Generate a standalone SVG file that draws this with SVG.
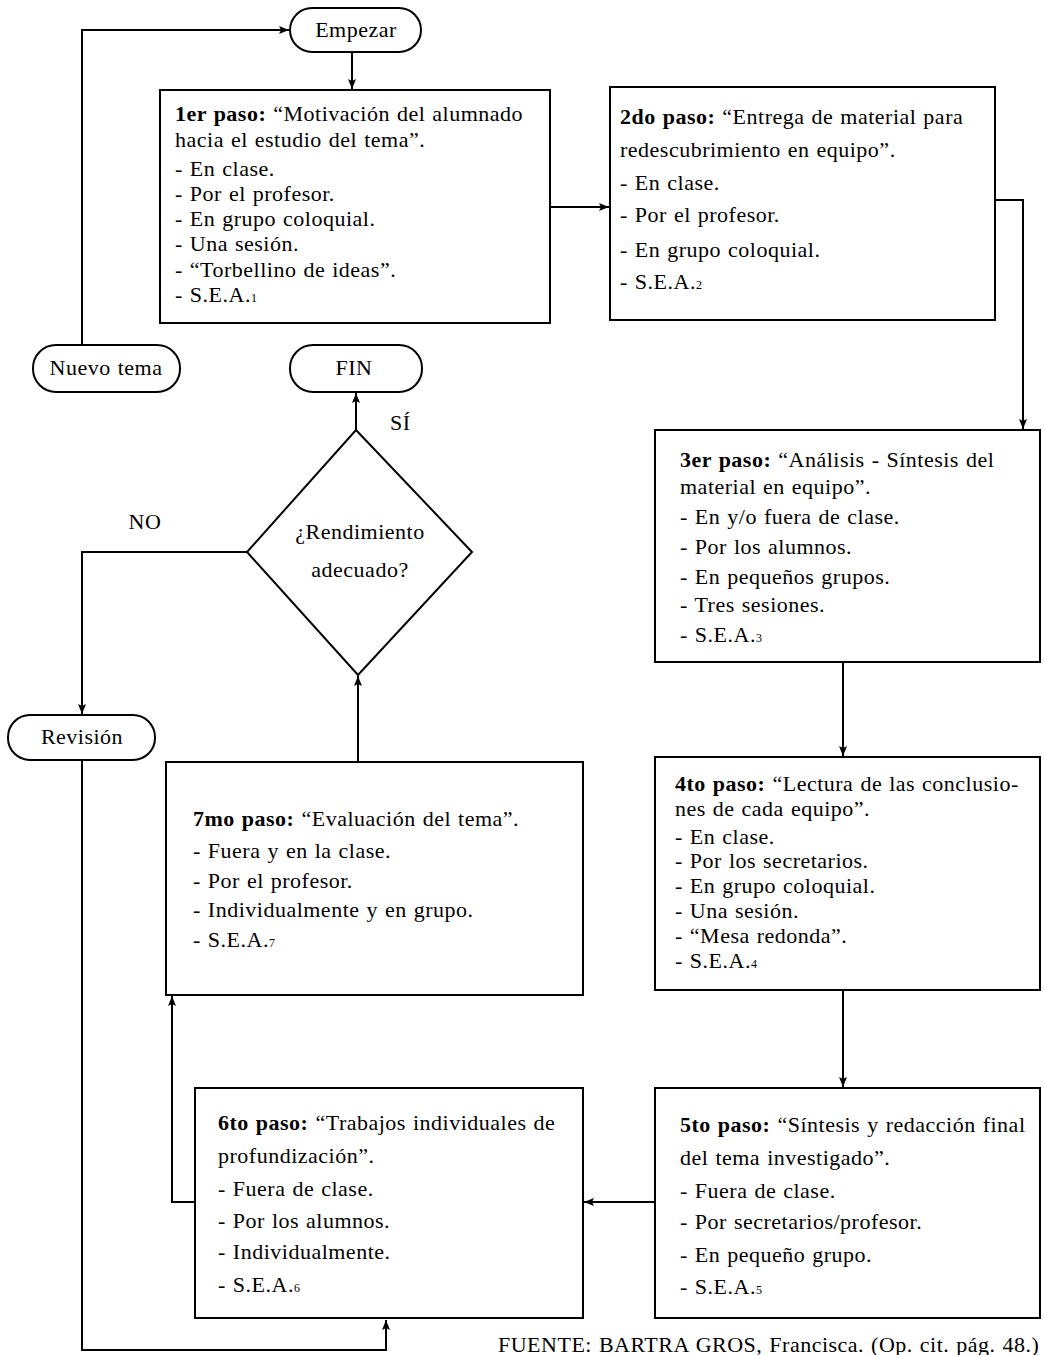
<svg xmlns="http://www.w3.org/2000/svg" width="1044" height="1355" viewBox="0 0 1044 1355">
<defs>
<marker id="ah" markerWidth="12" markerHeight="10" refX="10" refY="5" orient="auto" markerUnits="userSpaceOnUse">
<path d="M0,1 L10,5 L0,9 L2,5 Z" fill="#000"/>
</marker>
<style>
.box{fill:#fff;stroke:#000;stroke-width:2}
.term{fill:#fff;stroke:#000;stroke-width:2}
.t{font-family:"Liberation Serif","Times New Roman",serif;font-size:22px;fill:#000;letter-spacing:0.5px;word-spacing:1px}
.c{text-anchor:middle}
.b{font-weight:bold}
.sub{font-size:12px}
.con{fill:none;stroke:#000;stroke-width:2}
.arr{marker-end:url(#ah)}
</style>
</defs>
<rect width="1044" height="1355" fill="#fff"/>

<g id="connectors">
<path class="con arr" d="M82,345 L82,30 L289,30"/>
<path class="con arr" d="M352,52 L352,89"/>
<path class="con arr" d="M550,207 L609,207"/>
<path class="con arr" d="M995,200 L1023,200 L1023,429"/>
<path class="con arr" d="M843,662 L843,756"/>
<path class="con arr" d="M843,990 L843,1087"/>
<path class="con arr" d="M655,1202 L584,1202"/>
<path class="con arr" d="M195,1202 L172,1202 L172,996"/>
<path class="con arr" d="M358,762 L358,676"/>
<path class="con arr" d="M356,430 L356,393"/>
<path class="con arr" d="M247,552 L82,552 L82,714"/>
<path class="con arr" d="M82,760 L82,1350 L386,1350 L386,1320"/>
</g>

<g id="empezar">
<rect class="term" x="290" y="8" width="131" height="44" rx="22"/>
<text class="t c" x="356" y="37">Empezar</text>
</g>

<g id="paso1">
<rect class="box" x="160" y="90" width="390" height="233"/>
<text class="t" x="175" y="121"><tspan class="b">1er paso:</tspan> “Motivación del alumnado</text>
<text class="t" x="175" y="147">hacia el estudio del tema”.</text>
<text class="t" x="175" y="176">- En clase.</text>
<text class="t" x="175" y="201">- Por el profesor.</text>
<text class="t" x="175" y="226">- En grupo coloquial.</text>
<text class="t" x="175" y="251">- Una sesión.</text>
<text class="t" x="175" y="277">- “Torbellino de ideas”.</text>
<text class="t" x="175" y="302">- S.E.A.<tspan class="sub">1</tspan></text>
</g>

<g id="paso2">
<rect class="box" x="610" y="87" width="385" height="233"/>
<text class="t" x="620" y="124"><tspan class="b">2do paso:</tspan> “Entrega de material para</text>
<text class="t" x="620" y="157">redescubrimiento en equipo”.</text>
<text class="t" x="620" y="190">- En clase.</text>
<text class="t" x="620" y="222">- Por el profesor.</text>
<text class="t" x="620" y="257">- En grupo coloquial.</text>
<text class="t" x="620" y="289">- S.E.A.<tspan class="sub">2</tspan></text>
</g>

<g id="paso3">
<rect class="box" x="655" y="430" width="385" height="232"/>
<text class="t" x="680" y="467"><tspan class="b">3er paso:</tspan> “Análisis - Síntesis del</text>
<text class="t" x="680" y="494">material en equipo”.</text>
<text class="t" x="680" y="524">- En y/o fuera de clase.</text>
<text class="t" x="680" y="554">- Por los alumnos.</text>
<text class="t" x="680" y="584">- En pequeños grupos.</text>
<text class="t" x="680" y="612">- Tres sesiones.</text>
<text class="t" x="680" y="642">- S.E.A.<tspan class="sub">3</tspan></text>
</g>

<g id="paso4">
<rect class="box" x="655" y="757" width="385" height="233"/>
<text class="t" x="675" y="791"><tspan class="b">4to paso:</tspan> “Lectura de las conclusio-</text>
<text class="t" x="675" y="816">nes de cada equipo”.</text>
<text class="t" x="675" y="844">- En clase.</text>
<text class="t" x="675" y="868">- Por los secretarios.</text>
<text class="t" x="675" y="893">- En grupo coloquial.</text>
<text class="t" x="675" y="918">- Una sesión.</text>
<text class="t" x="675" y="943">- “Mesa redonda”.</text>
<text class="t" x="675" y="968">- S.E.A.<tspan class="sub">4</tspan></text>
</g>

<g id="paso5">
<rect class="box" x="655" y="1088" width="385" height="230"/>
<text class="t" x="680" y="1132"><tspan class="b">5to paso:</tspan> “Síntesis y redacción final</text>
<text class="t" x="680" y="1165">del tema investigado”.</text>
<text class="t" x="680" y="1198">- Fuera de clase.</text>
<text class="t" x="680" y="1229">- Por secretarios/profesor.</text>
<text class="t" x="680" y="1262">- En pequeño grupo.</text>
<text class="t" x="680" y="1294">- S.E.A.<tspan class="sub">5</tspan></text>
</g>

<g id="paso6">
<rect class="box" x="195" y="1088" width="388" height="230"/>
<text class="t" x="218" y="1130"><tspan class="b">6to paso:</tspan> “Trabajos individuales de</text>
<text class="t" x="218" y="1163">profundización”.</text>
<text class="t" x="218" y="1196">- Fuera de clase.</text>
<text class="t" x="218" y="1228">- Por los alumnos.</text>
<text class="t" x="218" y="1259">- Individualmente.</text>
<text class="t" x="218" y="1292">- S.E.A.<tspan class="sub">6</tspan></text>
</g>

<g id="paso7">
<rect class="box" x="166" y="762" width="417" height="233"/>
<text class="t" x="193" y="826"><tspan class="b">7mo paso:</tspan> “Evaluación del tema”.</text>
<text class="t" x="193" y="858">- Fuera y en la clase.</text>
<text class="t" x="193" y="888">- Por el profesor.</text>
<text class="t" x="193" y="917">- Individualmente y en grupo.</text>
<text class="t" x="193" y="947">- S.E.A.<tspan class="sub">7</tspan></text>
</g>

<g id="decision">
<polygon class="box" points="356,430 472,552 358,675 247,552"/>
<text class="t c" x="360" y="539">¿Rendimiento</text>
<text class="t c" x="360" y="577">adecuado?</text>
</g>

<g id="fin">
<rect class="term" x="290" y="345" width="132" height="47" rx="23"/>
<text class="t c" x="354" y="375">FIN</text>
</g>

<g id="nuevo-tema">
<rect class="term" x="33" y="345" width="147" height="47" rx="23"/>
<text class="t c" x="106" y="375">Nuevo tema</text>
</g>

<g id="revision">
<rect class="term" x="8" y="715" width="147" height="45" rx="22"/>
<text class="t c" x="82" y="744">Revisión</text>
</g>

<g id="labels">
<text class="t" x="390" y="430">SÍ</text>
<text class="t c" x="145" y="529">NO</text>
<text class="t" x="498" y="1352">FUENTE: BARTRA GROS, Francisca. (Op. cit. pág. 48.)</text>
</g>
</svg>
